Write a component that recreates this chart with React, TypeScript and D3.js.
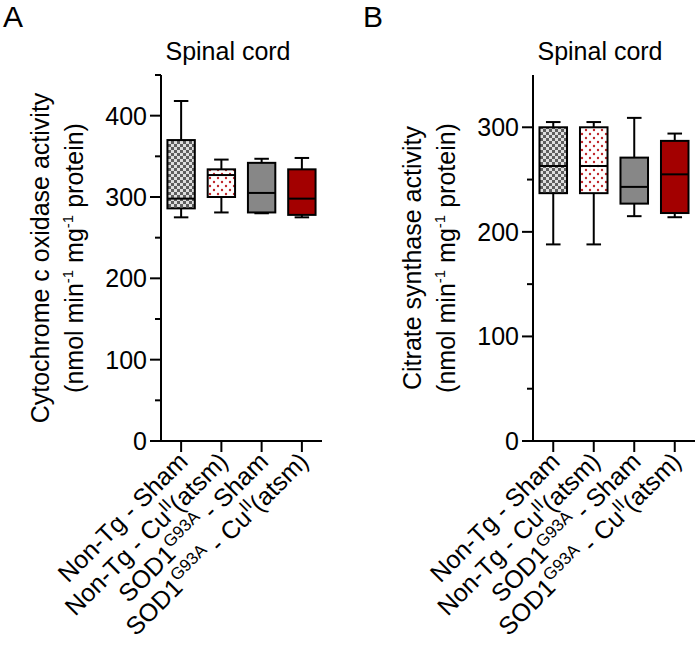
import React from "react";
import * as d3 from "d3";

// group order on x axis
const groups = ["nt-sham", "nt-cu", "sod-sham", "sod-cu"];

// panel A: cytochrome c oxidase (box stats)
const coxMin = [275, 281, 280, 275];
const coxQ1 = [286, 300, 281, 278];
const coxMedian = [298, 327, 305, 298];
const coxQ3 = [370, 334, 342, 334];
const coxMax = [418, 346, 347, 348];
const coxMajorTicks = [0, 100, 200, 300, 400];
const coxMinorTicks = [50, 150, 250, 350, 450];

// panel B: citrate synthase
const csMin = [188, 188, 215, 214];
const csQ1 = [237, 237, 227, 218];
const csMedian = [263, 263, 243, 255];
const csQ3 = [300, 300, 271, 287];
const csMax = [305, 305, 309, 294];
const csMajorTicks = [0, 100, 200, 300];
const csMinorTicks = [50, 150, 250];

const fills = ["url(#checker)", "url(#dots)", "#878787", "#a30000"];
const FONT = "'Liberation Sans', Arial, Helvetica, sans-serif";

function XLabel({ i }: { i: number }) {
  if (i === 0) return <>Non-Tg - Sham</>;
  if (i === 1)
    return (
      <>
        Non-Tg - Cu
        <tspan fontSize={17} dy={-10}>II</tspan>
        <tspan dy={10}>(atsm)</tspan>
      </>
    );
  if (i === 2)
    return (
      <>
        SOD1
        <tspan fontSize={17} dy={-10}>G93A</tspan>
        <tspan dy={10}> - Sham</tspan>
      </>
    );
  return (
    <>
      SOD1
      <tspan fontSize={17} dy={-10}>G93A</tspan>
      <tspan dy={10}> - Cu</tspan>
      <tspan fontSize={17} dy={-10}>II</tspan>
      <tspan dy={10}>(atsm)</tspan>
    </>
  );
}

function Panel(props: any) {
  const { x0, x1, yMax, min, q1, med, q3, max, major, minor, letter, letterX, titleX, line1, b1, b2 } = props;
  const x = d3.scaleBand().domain(groups).range([x0, x1]);
  const y = d3.scaleLinear().domain([0, yMax]).range([441, 75]);
  const bw = x.bandwidth() * 0.68;
  const cw = x.bandwidth() * 0.36;
  const midY = (y(0) + y(yMax)) / 2;

  return (
    <g fontFamily={FONT}>
      <text x={letterX} y={27} fontSize={30}>{letter}</text>
      <text x={titleX} y={60} fontSize={25} textAnchor="middle">Spinal cord</text>

      {/* y axis title */}
      <text transform={`translate(${b1},${midY}) rotate(-90)`} fontSize={25} textAnchor="middle">{line1}</text>
      <text transform={`translate(${b2},${midY}) rotate(-90)`} fontSize={25} textAnchor="middle">
        (nmol min<tspan fontSize={15} dy={-10}>-1</tspan>
        <tspan dy={10}> mg</tspan>
        <tspan fontSize={15} dy={-10}>-1</tspan>
        <tspan dy={10}> protein)</tspan>
      </text>

      {/* y axis */}
      <line x1={x0} x2={x0} y1={y(yMax)} y2={y(0)} stroke="#000" strokeWidth={2} />
      {major.map((t: number) => (
        <g key={t}>
          <line x1={x0 - 11} x2={x0} y1={y(t)} y2={y(t)} stroke="#000" strokeWidth={2} />
          <text x={x0 - 14} y={y(t)} dy="0.36em" fontSize={25} textAnchor="end">{t}</text>
        </g>
      ))}
      {minor.map((t: number) => (
        <line key={t} x1={x0 - 6} x2={x0} y1={y(t)} y2={y(t)} stroke="#000" strokeWidth={2} />
      ))}

      {/* x axis */}
      <line x1={x0 - 1} x2={x1} y1={y(0)} y2={y(0)} stroke="#000" strokeWidth={2} />
      {groups.map((g, i) => {
        const cx = (x(g) as number) + x.bandwidth() / 2;
        return (
          <g key={g}>
            <line x1={cx} x2={cx} y1={y(0)} y2={y(0) + 11} stroke="#000" strokeWidth={2} />
            <text transform={`translate(${cx + 8},${y(0) + 22}) rotate(-45)`} fontSize={25} textAnchor="end">
              <XLabel i={i} />
            </text>
          </g>
        );
      })}

      {/* boxes */}
      {groups.map((g, i) => {
        const cx = (x(g) as number) + x.bandwidth() / 2;
        return (
          <g key={g} stroke="#000" strokeWidth={2}>
            <line x1={cx} x2={cx} y1={y(max[i])} y2={y(q3[i])} />
            <line x1={cx} x2={cx} y1={y(q1[i])} y2={y(min[i])} />
            <line x1={cx - cw / 2} x2={cx + cw / 2} y1={y(max[i])} y2={y(max[i])} />
            <line x1={cx - cw / 2} x2={cx + cw / 2} y1={y(min[i])} y2={y(min[i])} />
            <rect x={cx - bw / 2} width={bw} y={y(q3[i])} height={y(q1[i]) - y(q3[i])} fill={fills[i]} />
            <line x1={cx - bw / 2} x2={cx + bw / 2} y1={y(med[i])} y2={y(med[i])} />
          </g>
        );
      })}
    </g>
  );
}

export default function App() {
  return (
    <svg width={697} height={655} style={{ position: "absolute", left: 0, top: 0, background: "#fff" }}>
      <defs>
        <pattern id="checker" width={6} height={6} patternUnits="userSpaceOnUse">
          <rect width={6} height={6} fill="#dedede" />
          <rect width={3} height={3} fill="#5e5e5e" />
          <rect x={3} y={3} width={3} height={3} fill="#5e5e5e" />
        </pattern>
        <pattern id="dots" width={8} height={8} patternUnits="userSpaceOnUse">
          <rect width={8} height={8} fill="#fff" />
          <circle cx={2} cy={2} r={1.2} fill="#c0262a" />
          <circle cx={6} cy={6} r={1.2} fill="#c0262a" />
        </pattern>
      </defs>
      <Panel
        x0={161} x1={322} yMax={450}
        min={coxMin} q1={coxQ1} med={coxMedian} q3={coxQ3} max={coxMax}
        major={coxMajorTicks} minor={coxMinorTicks}
        letter="A" letterX={3} titleX={228}
        line1="Cytochrome c oxidase activity" b1={49} b2={83}
      />
      <Panel
        x0={533} x1={695} yMax={350}
        min={csMin} q1={csQ1} med={csMedian} q3={csQ3} max={csMax}
        major={csMajorTicks} minor={csMinorTicks}
        letter="B" letterX={363} titleX={600}
        line1="Citrate synthase activity" b1={421} b2={455}
      />
    </svg>
  );
}
